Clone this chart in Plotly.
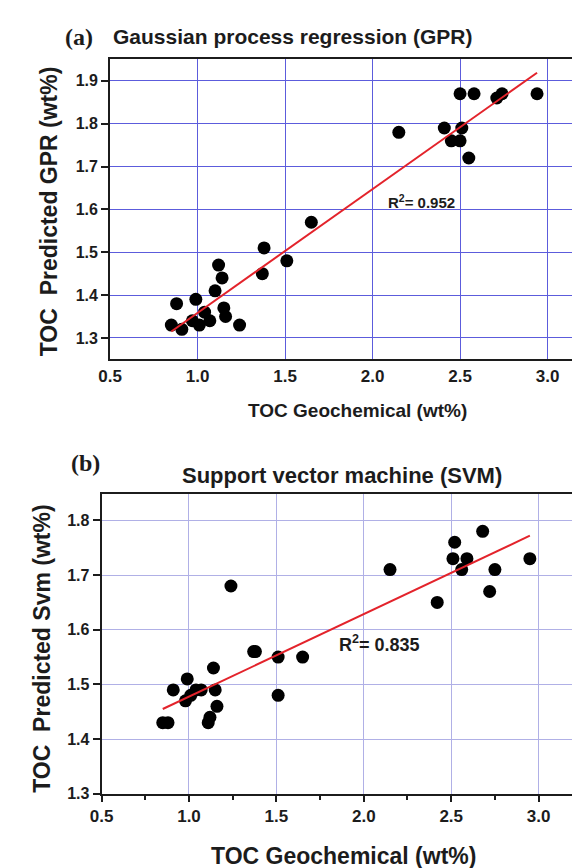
import plotly.graph_objects as go

# ---------------- data ----------------
gpr_x = [0.85, 0.88, 0.91, 0.97, 0.99, 1.01, 1.04, 1.07, 1.10, 1.12, 1.14, 1.15, 1.16,
         1.24, 1.37, 1.38, 1.51, 1.65, 2.15, 2.41, 2.45, 2.50, 2.51, 2.50, 2.58, 2.55,
         2.71, 2.74, 2.94]
gpr_y = [1.33, 1.38, 1.32, 1.34, 1.39, 1.33, 1.36, 1.34, 1.41, 1.47, 1.44, 1.37, 1.35,
         1.33, 1.45, 1.51, 1.48, 1.57, 1.78, 1.79, 1.76, 1.76, 1.79, 1.87, 1.87, 1.72,
         1.86, 1.87, 1.87]
gpr_fit_x = [0.85, 2.94]
gpr_fit_y = [1.315, 1.919]
gpr_r2 = "0.952"

svm_x = [0.85, 0.88, 0.91, 0.99, 0.98, 1.01, 1.04, 1.07, 1.11, 1.12, 1.14, 1.15, 1.16,
         1.24, 1.37, 1.38, 1.51, 1.51, 1.65, 2.15, 2.42, 2.51, 2.52, 2.56, 2.59, 2.68,
         2.72, 2.75, 2.95]
svm_y = [1.43, 1.43, 1.49, 1.51, 1.47, 1.48, 1.49, 1.49, 1.43, 1.44, 1.53, 1.49, 1.46,
         1.68, 1.56, 1.56, 1.55, 1.48, 1.55, 1.71, 1.65, 1.73, 1.76, 1.71, 1.73, 1.78,
         1.67, 1.71, 1.73]
svm_fit_x = [0.85, 2.95]
svm_fit_y = [1.455, 1.772]
svm_r2 = "0.835"

x_ticks = [0.5, 1.0, 1.5, 2.0, 2.5, 3.0]
gpr_y_ticks = [1.3, 1.4, 1.5, 1.6, 1.7, 1.8, 1.9]
svm_y_ticks = [1.3, 1.4, 1.5, 1.6, 1.7, 1.8]

# ---------------- figure ----------------
W, H = 580, 868
FONT = "Liberation Sans"
INK = "#1c1c1c"

fig = go.Figure()

fig.add_trace(go.Scatter(x=gpr_x, y=gpr_y, mode="markers",
                         marker=dict(size=13, color="black"),
                         xaxis="x", yaxis="y", showlegend=False))
fig.add_trace(go.Scatter(x=gpr_fit_x, y=gpr_fit_y, mode="lines",
                         line=dict(color="#e3232b", width=2),
                         xaxis="x", yaxis="y", showlegend=False))
fig.add_trace(go.Scatter(x=svm_x, y=svm_y, mode="markers",
                         marker=dict(size=13, color="black"),
                         xaxis="x2", yaxis="y2", showlegend=False))
fig.add_trace(go.Scatter(x=svm_fit_x, y=svm_fit_y, mode="lines",
                         line=dict(color="#e3232b", width=2),
                         xaxis="x2", yaxis="y2", showlegend=False))

tick_font = dict(family=FONT, size=17, color=INK, weight="bold")
ytick_font = dict(family=FONT, size=16, color=INK, weight="bold")

def px(x):
    return x / W

def py(y):
    return 1 - y / H

fig.update_layout(
    width=W, height=H,
    margin=dict(l=0, r=0, t=0, b=0),
    paper_bgcolor="white", plot_bgcolor="white",
    xaxis=dict(domain=[px(92), px(578)], range=[0.5, 3.22], anchor="y",
               tickvals=x_ticks, ticktext=[f"{v:.1f}" for v in x_ticks],
               showgrid=True, gridcolor="#5c5cdc", gridwidth=1,
               showline=True, linecolor=INK, linewidth=2, mirror=True,
               ticks="", tickfont=tick_font, zeroline=False),
    yaxis=dict(domain=[py(355), py(52)], range=[1.25, 1.95], anchor="x",
               tickvals=gpr_y_ticks, ticktext=[f"{v:.1f}" for v in gpr_y_ticks],
               showgrid=True, gridcolor="#5c5cdc", gridwidth=1,
               showline=True, linecolor=INK, linewidth=2, mirror=True,
               ticks="outside", ticklen=7, tickwidth=1.5, tickcolor=INK,
               tickfont=ytick_font, zeroline=False),
    xaxis2=dict(domain=[px(83.3), px(573.3)], range=[0.5, 3.245], anchor="y2",
                tickvals=x_ticks, ticktext=[f"{v:.1f}" for v in x_ticks],
                showgrid=True, gridcolor="#b0b0e6", gridwidth=1,
                showline=True, linecolor=INK, linewidth=2, mirror=True,
                ticks="outside", ticklen=6, tickwidth=1.5, tickcolor=INK,
                minor=dict(ticks="outside", ticklen=4, tickwidth=1.5, tickcolor=INK,
                           dtick=0.25, tick0=0.25, showgrid=False),
                tickfont=tick_font, zeroline=False),
    yaxis2=dict(domain=[py(794), py(490.7)], range=[1.3, 1.849], anchor="x2",
                tickvals=svm_y_ticks, ticktext=[f"{v:.1f}" for v in svm_y_ticks],
                showgrid=True, gridcolor="#b0b0e6", gridwidth=1,
                showline=True, linecolor=INK, linewidth=2, mirror=True,
                ticks="outside", ticklen=7, tickwidth=1.5, tickcolor=INK,
                tickfont=ytick_font, zeroline=False),
)

def ann(text, x, y, size, family=FONT, angle=0, xanchor="center", xref="paper", yref="paper"):
    fig.add_annotation(text=text, x=x, y=y, xref=xref, yref=yref, showarrow=False,
                       xanchor=xanchor, yanchor="middle", textangle=angle,
                       font=dict(family=family, size=size, color=INK, weight="bold"))

# panel (a)
ann("(a)", px(60), py(29), 24, family="Liberation Serif")
ann("Gaussian process regression (GPR)", px(93), py(29), 21, xanchor="left")
ann("TOC  Predicted GPR (wt%)", px(29), py(205), 23, angle=-90)
ann("TOC Geochemical (wt%)", px(345), py(407), 19)
ann(f"R<sup>2</sup>= {gpr_r2}", 2.28, 1.619, 15, xref="x", yref="y")

# panel (b)
ann("(b)", px(67), py(460), 24, family="Liberation Serif")
ann("Support vector machine (SVM)", px(329), py(472), 22)
ann("TOC  Predicted Svm (wt%)", px(23), py(648), 23, angle=-90)
ann("TOC Geochemical (wt%)", px(330), py(857), 23)
ann(f"R<sup>2</sup>= {svm_r2}", 2.09, 1.574, 18, xref="x2", yref="y2")

fig.write_html("out.html")
